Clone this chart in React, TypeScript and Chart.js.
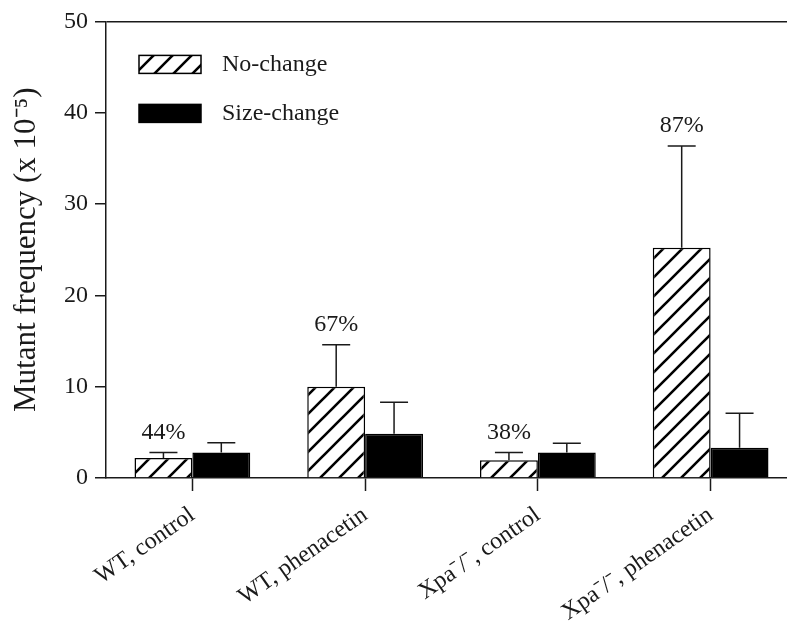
import React, { useEffect, useRef } from "react";
import { Chart, registerables } from "chart.js";

Chart.register(...registerables);

const categories = ["WT, control", "WT, phenacetin", "Xpa⁻/⁻, control", "Xpa⁻/⁻, phenacetin"];
const seriesNames = ["No-change", "Size-change"];
const noChange = [2.2, 10.0, 1.95, 25.2];
const noChangeErr = [0.6, 4.6, 0.85, 11.15];
const sizeChange = [2.8, 4.85, 2.8, 3.3];
const sizeChangeErr = [1.05, 3.45, 1.0, 3.8];
const percentLabels = ["44%", "67%", "38%", "87%"];
const yTicks = [0, 10, 20, 30, 40, 50];
const yTitle = "Mutant frequency (x 10⁻⁵)";

const FONT = "'Liberation Serif', 'Times New Roman', serif";
const INK = "#1a1a1a";

function makeHatch(): CanvasPattern | string {
  const s = 19;
  const c = document.createElement("canvas");
  c.width = s;
  c.height = s;
  const g = c.getContext("2d");
  if (!g) return "#fff";
  g.fillStyle = "#fff";
  g.fillRect(0, 0, s, s);
  g.strokeStyle = "#000";
  g.lineWidth = 2.6;
  g.beginPath();
  for (let k = -1; k <= 1; k++) {
    g.moveTo(k * s - 2, s + 2);
    g.lineTo(k * s + s + 2, -2);
  }
  g.stroke();
  const p = g.createPattern(c, "repeat");
  return p || "#fff";
}

export default function App() {
  const ref = useRef<HTMLCanvasElement | null>(null);

  useEffect(() => {
    if (!ref.current) return;
    const hatch = makeHatch();
    const vals = [noChange, sizeChange];
    const errs = [noChangeErr, sizeChangeErr];

    const overlay = {
      id: "overlay",
      afterDatasetsDraw(chart: any) {
        const ctx = chart.ctx as CanvasRenderingContext2D;
        const y = chart.scales.y;
        ctx.save();
        ctx.strokeStyle = INK;
        ctx.lineWidth = 1.5;
        ctx.fillStyle = INK;
        ctx.font = `24px ${FONT}`;
        ctx.textAlign = "center";
        ctx.textBaseline = "middle";
        [0, 1].forEach((di) => {
          const meta = chart.getDatasetMeta(di);
          meta.data.forEach((bar: any, i: number) => {
            const top = y.getPixelForValue(vals[di][i] + errs[di][i]);
            const x = bar.x;
            ctx.beginPath();
            ctx.moveTo(x, bar.y);
            ctx.lineTo(x, top);
            ctx.moveTo(x - 14, top);
            ctx.lineTo(x + 14, top);
            ctx.stroke();
            if (di === 0) {
              ctx.fillText(percentLabels[i], x, top - 20);
            }
          });
        });
        // legend
        const a = chart.chartArea;
        const lx = a.left + 33;
        const boxes = [a.top + 34, a.top + 83];
        const fills = [hatch, "#000"];
        ctx.textAlign = "left";
        boxes.forEach((by, k) => {
          ctx.fillStyle = fills[k] as any;
          ctx.fillRect(lx, by, 62, 18);
          ctx.strokeStyle = "#000";
          ctx.lineWidth = 1.5;
          ctx.strokeRect(lx, by, 62, 18);
          ctx.fillStyle = INK;
          ctx.fillText(seriesNames[k], lx + 83, by + 9);
        });
        ctx.restore();
      },
    };

    const chart = new Chart(ref.current, {
      type: "bar",
      data: {
        labels: categories,
        datasets: [
          {
            label: seriesNames[0],
            data: noChange,
            backgroundColor: hatch as any,
            borderColor: "#000",
            borderWidth: 1.5,
            categoryPercentage: 0.67,
            barPercentage: 1.0,
          },
          {
            label: seriesNames[1],
            data: sizeChange,
            backgroundColor: "#000",
            borderColor: "#000",
            borderWidth: 1.5,
            categoryPercentage: 0.67,
            barPercentage: 1.0,
          },
        ],
      },
      options: {
        responsive: false,
        animation: false,
        layout: { padding: { top: 18, right: 3, left: 0, bottom: 0 } },
        plugins: { legend: { display: false }, tooltip: { enabled: false } },
        scales: {
          x: {
            offset: true,
            grid: {
              display: true,
              drawOnChartArea: false,
              offset: false,
              tickLength: 13,
              tickColor: INK,
              tickWidth: 1.5,
            },
            border: { display: true, color: INK, width: 1.5 },
            ticks: {
              color: INK,
              font: { family: FONT, size: 24 },
              minRotation: 35,
              maxRotation: 35,
              padding: 10,
              autoSkip: false,
            },
            afterFit: (s: any) => {
              s.height = 150;
            },
          },
          y: {
            min: 0,
            max: 50,
            afterBuildTicks: (s: any) => {
              s.ticks = yTicks.map((v) => ({ value: v }));
            },
            grid: {
              color: (c: any) => (c.tick && c.tick.value === 50 ? INK : "rgba(0,0,0,0)"),
              lineWidth: 1.5,
              tickLength: 11,
              tickColor: INK,
              tickWidth: 1.5,
            },
            border: { display: true, color: INK, width: 1.5 },
            ticks: { color: INK, font: { family: FONT, size: 24 }, padding: 7 },
            title: {
              display: true,
              text: yTitle,
              color: INK,
              font: { family: FONT, size: 31 },
              padding: { top: 8, bottom: 0 },
            },
            afterFit: (s: any) => {
              s.width = 106;
            },
          },
        },
      },
      plugins: [overlay],
    });
    return () => chart.destroy();
  }, []);

  return (
    <div
      style={{
        position: "absolute",
        left: 0,
        top: 0,
        width: 787,
        height: 628,
        overflow: "hidden",
        background: "#fff",
      }}
    >
      <canvas ref={ref} width={800} height={628} style={{ display: "block" }} />
    </div>
  );
}
